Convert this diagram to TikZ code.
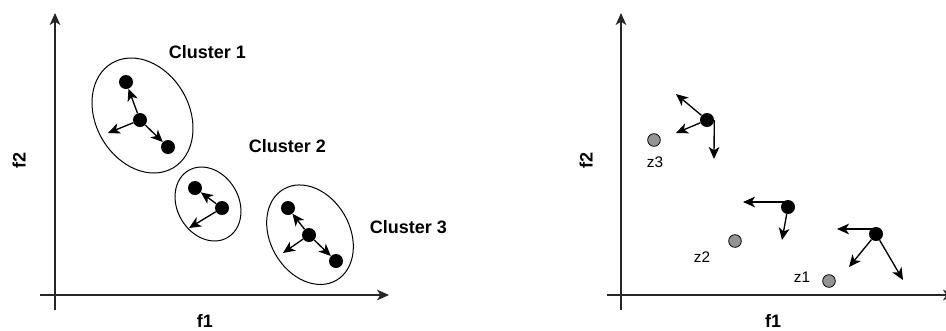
\documentclass[tikz,border=0pt]{standalone}
\usepackage{fontspec}
\setmainfont{Liberation Sans}
\usetikzlibrary{arrows.meta}
\begin{document}
\begin{tikzpicture}[x=0.75pt,y=-0.75pt,
  arr/.style={-{Stealth[length=9pt,width=8pt,inset=2.5pt]},line width=1pt},
  axis/.style={-{Stealth[length=9pt,width=8pt,inset=2.5pt]},line width=1.1pt,draw=black!85},
  dot/.style={circle,fill=black,inner sep=0pt,minimum size=10.5pt},
  gdot/.style={circle,fill=black!42,draw=black,line width=0.6pt,inner sep=0pt,minimum size=9.5pt},
  clab/.style={font=\fontsize{13.5}{16}\selectfont\bfseries,inner sep=0pt},
  zlab/.style={font=\fontsize{11.5}{14}\selectfont},
  ell/.style={line width=0.75pt}]
\useasboundingbox (0,0) rectangle (946,330);
% ---------- left panel axes
\coordinate (ly0) at (55,310); \coordinate (ly1) at (55,13);
\coordinate (lx0) at (40,295); \coordinate (lx1) at (389,295);
\draw[axis] (ly0) -- (ly1);
\draw[axis] (lx0) -- (lx1);
\node[clab] (lf1) at (205,321) {f1};
\node[clab,rotate=90] (lf2) at (19,160) {f2};
% ---------- clusters
\coordinate (e1) at (142.5,115.5);
\coordinate (e2) at (208,204);
\coordinate (e3) at (310,234.7);
\draw[ell,rotate around={-60:(e1)}] (e1) ellipse [x radius=45.5pt,y radius=35pt];
\draw[ell,rotate around={-60:(e2)}] (e2) ellipse [x radius=29.1pt,y radius=23.1pt];
\draw[ell,rotate around={-60:(e3)}] (e3) ellipse [x radius=39.5pt,y radius=29.8pt];
\node[clab] (l1) at (207.5,52) {Cluster 1};
\node[clab] (l2) at (287.5,146.5) {Cluster 2};
\node[clab] (l3) at (408.5,227.5) {Cluster 3};
% cluster 1
\node[dot] (c1a) at (126,82) {};
\node[dot] (c1b) at (140,120) {};
\node[dot] (c1c) at (168,147) {};
\coordinate (p1) at (108,133);
\draw[arr] (c1b) -- (c1a);
\draw[arr] (c1b) -- (p1);
\draw[arr] (c1b) -- (c1c);
% cluster 2
\node[dot] (c2a) at (195,188) {};
\node[dot] (c2b) at (222,208) {};
\coordinate (p2) at (189,228);
\draw[arr] (c2b) -- (c2a);
\draw[arr] (c2b) -- (p2);
% cluster 3
\node[dot] (c3a) at (288,208) {};
\node[dot] (c3b) at (309,235) {};
\node[dot] (c3c) at (336,261) {};
\coordinate (p3) at (283,253);
\draw[arr] (c3b) -- (c3a);
\draw[arr] (c3b) -- (p3);
\draw[arr] (c3b) -- (c3c);
% ---------- right panel axes
\coordinate (ry0) at (621,310); \coordinate (ry1) at (621,13);
\coordinate (rx0) at (607,295); \coordinate (rx1) at (955,295);
\draw[axis] (ry0) -- (ry1);
\draw[axis] (rx0) -- (rx1);
\node[clab] (rf1) at (773,321) {f1};
\node[clab,rotate=90] (rf2) at (586,160) {f2};
% points and arrows
\node[dot] (r3) at (707,120) {};
\coordinate (q1) at (676,94);
\coordinate (q2) at (676,133);
\coordinate (q3) at (714,159);
\draw[arr] (r3) -- (q1);
\draw[arr] (r3) -- (q2);
\draw[arr] (r3.east) -- (q3);
\node[dot] (r2) at (788,207) {};
\coordinate (q4) at (743,202);
\coordinate (q5) at (782,240);
\draw[arr] (r2.center |- q4) -- (q4);
\draw[arr] (r2) -- (q5);
\node[dot] (r1) at (876,234) {};
\coordinate (q6) at (837,229);
\coordinate (q7) at (849,267);
\coordinate (q8) at (903,280);
\draw[arr] (r1.center |- q6) -- (q6);
\draw[arr] (r1) -- (q7);
\draw[arr] (r1) -- (q8);
% centroids
\node[gdot] (g3) at (654,140) {};
\node[gdot] (g2) at (735,241) {};
\node[gdot] (g1) at (829,281) {};
\node[zlab] (z3) at (655,162) {z3};
\node[zlab] (z2) at (702,257) {z2};
\node[zlab] (z1) at (802,277) {z1};
\end{tikzpicture}
\end{document}
